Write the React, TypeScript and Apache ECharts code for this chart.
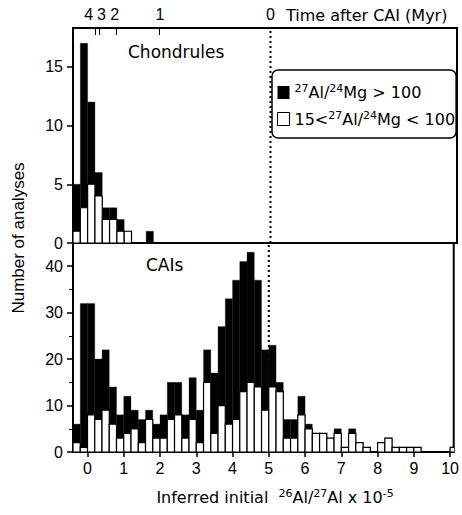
import React, { useEffect, useRef } from "react";
import * as echarts from "echarts";

// ---- data ----
const X_MIN = -0.4;
const X_MAX = 10.1;
const BIN_START = -0.4;
const BIN_W = 0.2;

// Chondrules (bins of 0.2 starting at -0.4)
const CHONDRULE_TOTAL = [5, 17, 12, 6, 3, 3, 2, 1, 0, 0, 1];
const CHONDRULE_LOW = [1, 3, 5, 4, 2, 2, 1, 1, 0, 0, 0];

// CAIs (bins of 0.2 starting at -0.4)
const CAI_TOTAL = [
  6, 32, 32, 20, 22, 14, 8, 12, 9, 7, 9, 6, 8, 15, 15, 8, 16, 9, 22, 17, 27,
  33, 37, 41, 43, 37, 22, 23, 15, 7, 7, 12, 6, 4, 4, 3, 5, 1, 5, 2, 1, 0, 2,
  3, 1, 1, 1, 1, 0, 0, 0, 0, 1,
];
const CAI_LOW = [
  2, 1, 8, 7, 9, 6, 3, 4, 5, 2, 7, 3, 3, 7, 8, 3, 7, 2, 15, 4, 10, 6, 7, 13,
  15, 14, 9, 14, 13, 3, 3, 8, 5, 4, 4, 3, 4, 1, 4, 2, 1, 0, 2, 3, 1, 1, 1, 1,
  0, 0, 0, 0, 1,
];

const X_TICKS = [0, 1, 2, 3, 4, 5, 6, 7, 8, 9, 10];
const Y_TICKS_TOP = [0, 5, 10, 15];
const Y_TICKS_BOTTOM = [0, 10, 20, 30, 40];
const Y_MINOR_BOTTOM = [5, 15, 25, 35];
const TIME_TICK_POS = [0.2, 0.32, 0.77, 1.96];
const TIME_LABEL_POS = [0.03, 0.38, 0.74, 1.98, 5.0];
const TIME_LABELS = ["4", "3", "2", "1", "0"];
const CAI_LINE = 5;

const TEXT_FONT = "DejaVu Sans";
const NUM_FONT = "Liberation Sans";

function toBins(values: number[]) {
  return values.map((v, i) => {
    const s = +(BIN_START + i * BIN_W).toFixed(2);
    return [s, +(s + BIN_W).toFixed(2), v];
  });
}

function makeRender(fill: string, stroke: string | null) {
  return (params: any, api: any) => {
    const n = api.value(2);
    if (!n) return null;
    const tl = api.coord([api.value(0), n]);
    const br = api.coord([api.value(1), 0]);
    return {
      type: "rect",
      shape: { x: tl[0], y: tl[1], width: br[0] - tl[0], height: br[1] - tl[1] },
      style: stroke
        ? { fill, stroke, lineWidth: 1.2 }
        : { fill, stroke: fill, lineWidth: 0.3 },
    };
  };
}

const HIGH = "high";
const MID = "mid";

export default function App() {
  const ref = useRef<HTMLDivElement>(null);
  useEffect(() => {
    if (!ref.current) return;
    const chart = echarts.init(ref.current, null, { renderer: "svg" });
    const numLabel = { fontFamily: NUM_FONT, fontSize: 16, color: "#000" };
    const noLine = { show: false, onZero: false };
    const option: any = {
      animation: false,
      backgroundColor: "#fff",
      grid: [
        { left: 73, right: 5, top: 28, height: 215, show: true, borderColor: "#000", borderWidth: 2, backgroundColor: "transparent" },
        { left: 73, right: 5, top: 243, height: 209, show: true, borderColor: "#000", borderWidth: 2, backgroundColor: "transparent" },
      ],
      xAxis: [
        { type: "value", gridIndex: 0, min: X_MIN, max: X_MAX, show: false, axisLine: noLine },
        {
          type: "value", gridIndex: 0, position: "top", min: X_MIN, max: X_MAX,
          axisLine: noLine, splitLine: { show: false },
          axisTick: { show: true, inside: true, length: 7, customValues: TIME_TICK_POS, lineStyle: { color: "#000", width: 1 } },
          axisLabel: {
            ...numLabel, margin: 6, customValues: TIME_LABEL_POS,
            formatter: (v: number) => {
              const i = TIME_LABEL_POS.findIndex((p) => Math.abs(p - v) < 1e-6);
              return i >= 0 ? TIME_LABELS[i] : "";
            },
          },
        },
        {
          type: "value", gridIndex: 1, min: X_MIN, max: X_MAX,
          axisLine: noLine, splitLine: { show: false },
          axisTick: { show: true, length: 5, customValues: X_TICKS, lineStyle: { color: "#000", width: 1.5 } },
          axisLabel: { ...numLabel, margin: 8, customValues: X_TICKS },
        },
      ],
      yAxis: [
        {
          type: "value", gridIndex: 0, min: 0, max: 18.3, position: "left",
          axisLine: noLine, splitLine: { show: false },
          axisTick: { show: true, length: 6, customValues: Y_TICKS_TOP, lineStyle: { color: "#000", width: 1.5 } },
          axisLabel: { ...numLabel, margin: 10, customValues: Y_TICKS_TOP },
        },
        {
          type: "value", gridIndex: 1, min: 0, max: 45, position: "left",
          axisLine: noLine, splitLine: { show: false },
          axisTick: { show: true, length: 6, customValues: Y_TICKS_BOTTOM, lineStyle: { color: "#000", width: 1.5 } },
          axisLabel: { ...numLabel, margin: 10, customValues: Y_TICKS_BOTTOM },
        },
        {
          type: "value", gridIndex: 1, min: 0, max: 45, position: "left", offset: 0,
          axisLine: noLine, splitLine: { show: false },
          axisTick: { show: true, length: 4, customValues: Y_MINOR_BOTTOM, lineStyle: { color: "#000", width: 1 } },
          axisLabel: { show: false },
        },
      ],
      legend: {
        orient: "vertical",
        left: 272,
        top: 70,
        padding: [13, 1, 11, 5],
        itemGap: 9,
        itemWidth: 12,
        itemHeight: 13,
        backgroundColor: "#fff",
        borderColor: "#000",
        borderWidth: 1.5,
        borderRadius: 6,
        data: [
          { name: HIGH, icon: "rect", itemStyle: { color: "#000", borderWidth: 0 } },
          { name: MID, icon: "rect", itemStyle: { color: "#fff", borderColor: "#000", borderWidth: 1 } },
        ],
        formatter: (name: string) =>
          name === HIGH
            ? "{s|27}Al/{s|24}Mg > 100"
            : "15<{s|27}Al/{s|24}Mg < 100",
        textStyle: {
          fontFamily: TEXT_FONT,
          fontSize: 16,
          color: "#000",
          rich: {
            s: { fontFamily: TEXT_FONT, fontSize: 11, color: "#000", padding: [0, 0, 8, 0] },
          },
        },
      },
      series: [
        {
          type: "line", xAxisIndex: 0, yAxisIndex: 0, symbol: "none", silent: true,
          data: [[CAI_LINE, 0], [CAI_LINE, 18.3]],
          lineStyle: { color: "#000", width: 2, type: [2, 3] }, z: 1,
        },
        {
          type: "line", xAxisIndex: 2, yAxisIndex: 1, symbol: "none", silent: true,
          data: [[CAI_LINE, 0], [CAI_LINE, 45]],
          lineStyle: { color: "#000", width: 2, type: [2, 3] }, z: 1,
        },
        {
          name: HIGH, type: "custom", xAxisIndex: 0, yAxisIndex: 0, clip: true,
          renderItem: makeRender("#000", null), data: toBins(CHONDRULE_TOTAL), z: 2,
        },
        {
          name: MID, type: "custom", xAxisIndex: 0, yAxisIndex: 0, clip: true,
          renderItem: makeRender("#fff", "#000"), data: toBins(CHONDRULE_LOW), z: 3,
        },
        {
          name: HIGH, type: "custom", xAxisIndex: 2, yAxisIndex: 1, clip: true,
          renderItem: makeRender("#000", null), data: toBins(CAI_TOTAL), z: 2,
        },
        {
          name: MID, type: "custom", xAxisIndex: 2, yAxisIndex: 1, clip: true,
          renderItem: makeRender("#fff", "#000"), data: toBins(CAI_LOW), z: 3,
        },
      ],
      graphic: [
        {
          type: "text", left: 128, top: 43, z: 10,
          style: { text: "Chondrules", fontFamily: TEXT_FONT, fontSize: 17, fill: "#000" },
        },
        {
          type: "text", left: 146, top: 256, z: 10,
          style: { text: "CAIs", fontFamily: TEXT_FONT, fontSize: 17, fill: "#000" },
        },
        {
          type: "text", left: 286, top: 7, z: 10,
          style: { text: "Time after CAI (Myr)", fontFamily: TEXT_FONT, fontSize: 16, fill: "#000" },
        },
        {
          type: "text", x: 18, y: 238, rotation: Math.PI / 2, z: 10,
          style: {
            text: "Number of analyses", fontFamily: NUM_FONT, fontSize: 17, fill: "#000",
            align: "center", verticalAlign: "middle",
          },
        },
        {
          type: "text", x: 275, y: 497, z: 10,
          style: {
            text: "Inferred initial  {s|26}Al/{s|27}Al x 10{s|-5}",
            fontFamily: TEXT_FONT, fontSize: 16, fill: "#000",
            align: "center", verticalAlign: "middle",
            rich: { s: { fontFamily: TEXT_FONT, fontSize: 11, fill: "#000", padding: [0, 0, 8, 0] } },
          },
        },
      ],
    };
    chart.setOption(option);
    return () => chart.dispose();
  }, []);
  return (
    <div
      ref={ref}
      style={{ position: "fixed", left: 0, top: 0, width: 462, height: 515, background: "#fff" }}
    />
  );
}
